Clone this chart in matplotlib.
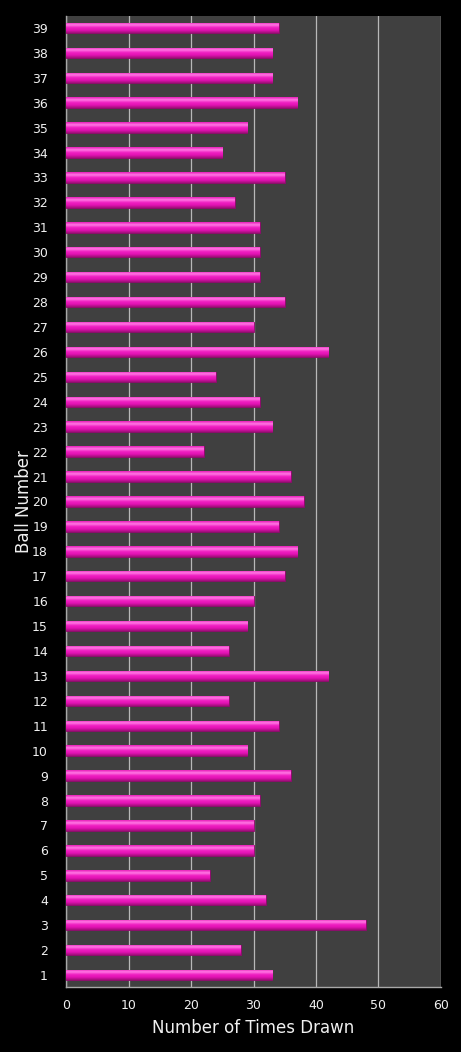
import matplotlib.pyplot as plt
import numpy as np
from matplotlib.colors import LinearSegmentedColormap

# numeros de bola y veces que salio cada una
balls = list(range(1, 40))
times_drawn = [33, 28, 48, 32, 23, 30, 30, 31, 36, 29,
               34, 26, 42, 26, 29, 30, 35, 37, 34, 38,
               36, 22, 33, 31, 24, 42, 30, 35, 31, 31,
               31, 27, 35, 25, 29, 37, 33, 33, 34]
x_ticks = [0, 10, 20, 30, 40, 50, 60]

fig = plt.figure(figsize=(4.61, 10.52), dpi=100)
fig.set_facecolor('black')
ax = fig.add_axes([0.1432, 0.0618, 0.8134, 0.923])
ax.set_facecolor('#404040')

# degradado vertical para que las barras parezcan cilindros
grad = LinearSegmentedColormap.from_list('rosa', ['#9E0F78', '#E012B2', '#F020C2', '#FF7AE4', '#E81CB8'])
img = np.linspace(0, 1, 64).reshape(-1, 1)

altura = 0.42
bars = ax.barh(balls, times_drawn, height=altura, color='#E81CB8',
               edgecolor='#8A0A68', linewidth=0.6, zorder=3)
for b in bars:
    x0, y0 = b.get_x(), b.get_y()
    w, h = b.get_width(), b.get_height()
    im = ax.imshow(img, cmap=grad, aspect='auto', origin='lower',
                   extent=[x0, x0 + w, y0, y0 + h], zorder=3.5, interpolation='bilinear')
    im.set_clip_path(b)

ax.set_xlim(0, 60)
ax.set_ylim(0.52, 39.48)
ax.set_xticks(x_ticks)
ax.set_yticks(balls)
ax.set_yticklabels([str(b) for b in balls])

ax.grid(axis='x', color='#B8B8B8', linewidth=0.9, zorder=1)
ax.set_axisbelow(True)
for s in ['top', 'right']:
    ax.spines[s].set_visible(False)
for s in ['left', 'bottom']:
    ax.spines[s].set_color('#A8A8A8')
    ax.spines[s].set_linewidth(1)

ax.tick_params(colors='#F0F0F0', labelsize=9, length=0)
ax.tick_params(axis='y', pad=13)
ax.tick_params(axis='x', pad=9)

ax.set_xlabel('Number of Times Drawn', color='#F0F0F0', fontsize=12, labelpad=5)
ax.set_ylabel('Ball Number', color='#F0F0F0', fontsize=12)
ax.yaxis.set_label_coords(-0.088, 0.5)

fig.savefig('out.png', dpi=100, facecolor='black')
